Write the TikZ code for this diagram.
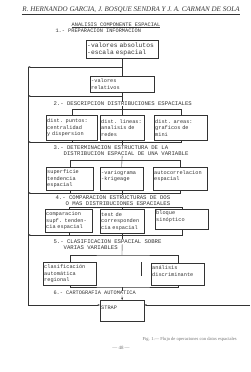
\documentclass[tikz,border=0pt]{standalone}
\usepackage{fontspec}
\setmainfont{Liberation Serif}
\setmonofont{Liberation Mono}
\usepackage{tikz}
\usetikzlibrary{arrows.meta}

\tikzset{
  caja/.style 2 args={draw, anchor=north west, align=left, inner sep=1.5pt,
    text width=#1*0.05cm-3pt, minimum height=#2*0.05cm,
    font=\ttfamily\fontsize{7.5}{9.2}\selectfont},
  paso/.style={anchor=north west, align=left, inner sep=0.5pt,
    font=\ttfamily\fontsize{8}{8.5}\selectfont}
}

\begin{document}
\begin{tikzpicture}[x=0.05cm, y=-0.05cm, line width=0.5pt, color=black!80,
    >={Stealth[length=3.5pt,width=2.6pt]}]
  \useasboundingbox (0,0) rectangle (250,372);

  % cabecera
  \node[font=\itshape\fontsize{10}{11}\selectfont, inner sep=1pt] (autores) at (131,10)
    {R. HERNANDO GARCIA, J. BOSQUE SENDRA Y J. A. CARMAN DE SOLA};
  \draw (autores.south west) -- (autores.south east);
  \node[font=\ttfamily\fontsize{7.5}{8}\selectfont, inner sep=0.5pt] (titulo) at (116,25)
    {\underline{ANALISIS COMPONENTE ESPACIAL}};

  % 1
  \node[paso, anchor=west, font=\ttfamily\fontsize{7.5}{8}\selectfont] (paso1) at (55,31)
    {1.- PREPARACION INFORMACION};
  \node[caja={72}{18}, font=\ttfamily\fontsize{9}{9.5}\selectfont] (valabs) at (86,40)
    {-valores absolutos\\-escala espacial};
  \node[caja={64}{16}] (valrel) at (90,76) {-valores\\relativos};

  % 2
  \node[paso, anchor=west] (paso2) at (53,104) {2.- DESCRIPCION DISTRIBUCIONES ESPACIALES};
  \node[caja={51}{25}] (puntos) at (46,115) {dist. puntos:\\centralidad\\y dispersion};
  \node[caja={44}{25}] (lineas) at (100,115) {dist. lineas:\\analisis de\\redes};
  \node[caja={53}{25}] (areas) at (154,115) {dist. areas:\\graficos de\\mini};

  % 3
  \node[paso] (paso3) at (53,145)
    {3.- DETERMINACION ESTRUCTURA DE LA\\\phantom{3.-}DISTRIBUCION ESPACIAL DE UNA VARIABLE};
  \node[caja={47}{23}] (superf) at (46,167) {superficie\\tendencia\\espacial};
  \node[caja={43}{23}] (vario) at (100,167) {-variograma\\-krigeage\\\mbox{}};
  \node[caja={54}{23}] (autoc) at (153,167) {autocorrelacion\\espacial\\\mbox{}};

  % 4
  \node[paso] (paso4) at (55,195)
    {4.- COMPARACION ESTRUCTURAS DE DOS\\\phantom{4.-}O MAS DISTRIBUCIONES ESPACIALES};
  \node[caja={47}{23}] (compar) at (45,209) {comparacion\\supf. tenden-\\cia espacial};
  \node[caja={44}{24}] (testc) at (100,209) {test de\\corresponden\\cia espacial};
  \node[caja={53}{20}] (bloque) at (155,209) {bloque\\sinóptico\\\mbox{}};

  % 5
  \node[paso] (paso5) at (53,239)
    {5.- CLASIFICACION ESPACIAL SOBRE\\\phantom{5.-}VARIAS VARIABLES};
  \node[caja={53}{23}] (clasif) at (43,262) {clasificación\\automática\\regional};
  \node[caja={53}{22}] (discr) at (151,263) {análisis\\discriminante\\\mbox{}};

  % 6
  \node[paso, anchor=west, font=\ttfamily\fontsize{7.5}{8}\selectfont] (paso6) at (53,293)
    {6.- CARTOGRAFIA AUTOMATICA};
  \node[caja={44}{21}] (strap) at (100,300) {STRAP\\\mbox{}};

  \node[anchor=west, font=\fontsize{6.5}{7}\selectfont, text=black!55] (pie) at (140,339)
    {Fig. 1.— Flujo de operaciones con datos espaciales};
  \node[font=\fontsize{7}{8}\selectfont, text=black!55] (pagina) at (121,348) {— 48 —};

  % linea de la izquierda hacia STRAP
  \coordinate (sp0) at (28,67);
  \coordinate (sp1) at (28,96);
  \coordinate (sp2) at (28,142);
  \coordinate (sp3) at (28,193);
  \coordinate (sp4) at (28,235);
  \coordinate (sp5) at (28,305);
  \coordinate (der) at (250,305);
  \draw[->] (sp0) -- (sp5) -- (sp5 -| strap.west);
  \draw[->] (der) -- (der -| strap.east);

  % etapa 1
  \draw (valabs) -- (valrel);
  \draw[->] (valabs.south |- sp0) -- (sp0);
  \draw[->] (valrel.south) |- (sp1);
  \draw (valrel.south) -- (valrel.south |- paso2.north);
  \draw (valrel.south |- paso2.south) -- (lineas.north);
  \draw (puntos.north) -- ++(0,-6) -| (areas.north);

  % etapa 2
  \draw (puntos.south) -- (puntos.south |- sp2);
  \draw (lineas.south) -- (lineas.south |- sp2);
  \draw[->] (areas.south) |- (sp2);
  \draw (lineas.south) -- (lineas.south |- paso3.north);
  \draw (lineas.south |- paso3.south) -- (vario.north);
  \draw (superf.north) -- ++(0,-7) -| (autoc.north);

  % etapa 3
  \draw (superf.south) -- (superf.south |- sp3);
  \draw (vario.south) -- (vario.south |- sp3);
  \draw[->] (autoc.south) |- (sp3);
  \draw (vario.south) -- (vario.south |- paso4.north);
  \draw (compar.north) -- ++(0,-2) -| (bloque.north);
  \draw (testc.north) -- ++(0,-2);

  % etapa 4
  \draw (compar.south) -- (compar.south |- sp4);
  \draw (testc.south) -- (testc.south |- sp4);
  \draw[->] (bloque.south) |- (sp4);
  \draw (testc.south) -- (testc.south |- paso5.north);
  \coordinate (t5) at (122,255);
  \draw (testc.south |- paso5.east) -- (t5);
  \draw (clasif.north) |- (t5) -| (discr.north);
  \draw (141,262) -- (141,276);

  % etapa 5
  \coordinate (c5) at (122,287);
  \draw (clasif.south) |- (c5) -| (discr.south);
  \draw (c5) -- (c5 |- paso6.north);
  \draw[->] (c5 |- paso6.south) -- (strap.north);
\end{tikzpicture}
\end{document}
